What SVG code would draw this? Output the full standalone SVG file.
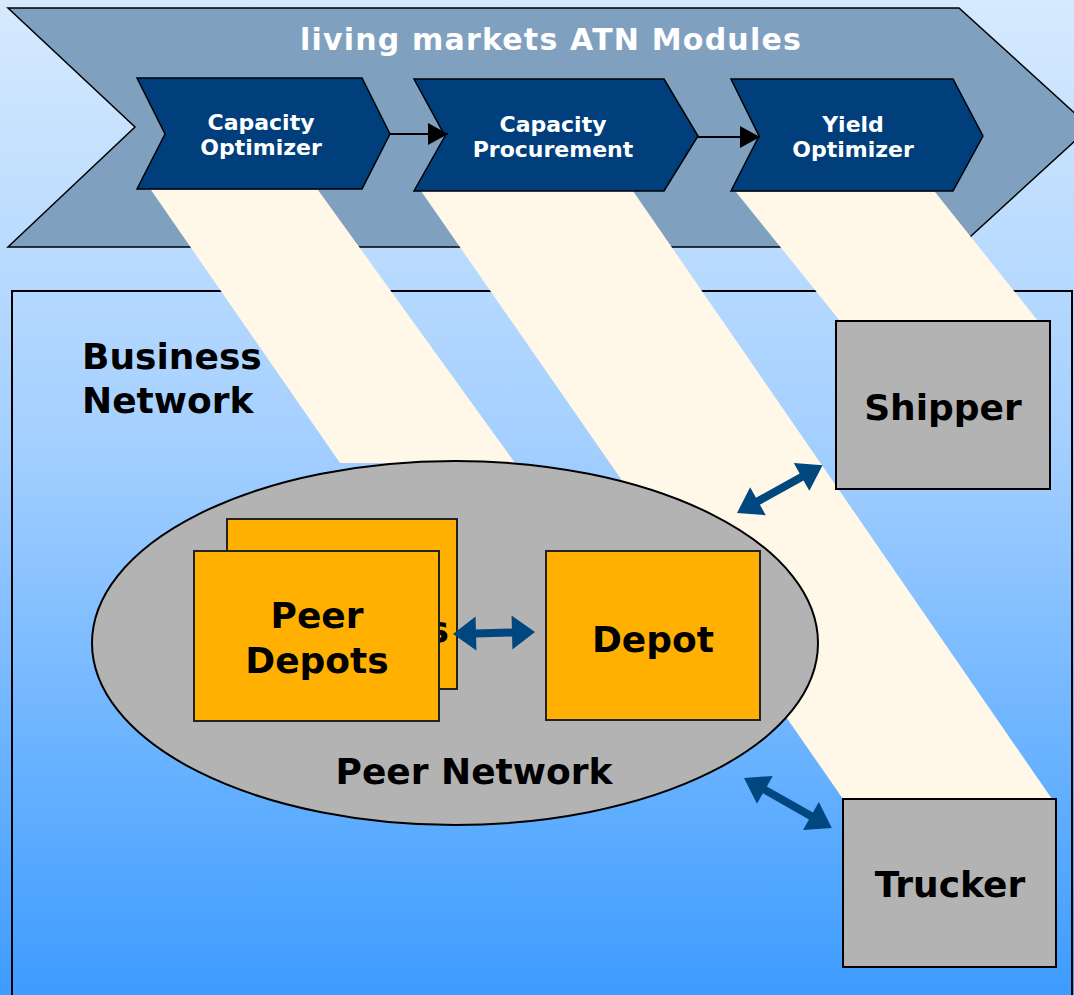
<svg xmlns="http://www.w3.org/2000/svg" width="1074" height="995" viewBox="0 0 1074 995">
<defs>
<linearGradient id="bg" x1="0" y1="0" x2="0" y2="995" gradientUnits="userSpaceOnUse">
<stop offset="0" stop-color="#d6eafe"/>
<stop offset="0.45" stop-color="#a3cfff"/>
<stop offset="1" stop-color="#3d9cff"/>
</linearGradient>
<marker id="tri" viewBox="0 0 20 22" refX="20" refY="11" markerWidth="20" markerHeight="22" markerUnits="userSpaceOnUse" orient="auto">
<path d="M0,0 L20,11 L0,22 Z" fill="#000"/>
</marker>
</defs>
<style>
.chev{fill:#003f7c;stroke:#000;stroke-width:1.5}
.mod{font-family:"DejaVu Sans",Verdana,sans-serif;font-weight:bold;font-size:22px;fill:#fff;text-anchor:middle}
.big{font-family:"DejaVu Sans",Verdana,sans-serif;font-weight:bold;font-size:36px;fill:#000;text-anchor:middle}
.beam{fill:#fff7e8}
.box{fill:#b3b3b3;stroke:#000;stroke-width:2}
.dep{fill:#ffb000;stroke:#222;stroke-width:2}
.dbl{fill:#00467f}
</style>
<rect x="0" y="0" width="1074" height="995" fill="url(#bg)"/>
<rect id="business-network" x="12" y="291" width="1060" height="720" fill="none" stroke="#000" stroke-width="2"/>
<g id="atn-modules">
<polygon points="8,8 959,8 1090,127 959,247 8,247 135,127" fill="#7fa1bf" stroke="#000" stroke-width="1.5"/>
<text x="551" y="50" font-family="DejaVu Sans,Verdana,sans-serif" font-weight="bold" font-size="30" fill="#fff" text-anchor="middle" letter-spacing="1.2">living markets ATN Modules</text>
</g>
<g id="beams">
<polygon class="beam" points="151,190 318,190 515,463 340,463"/>
<polygon class="beam" points="421,191 633,191 1052,799 843,799"/>
<polygon class="beam" points="736,192 935,192 1038,321 840,321"/>
</g>
<g id="capacity-optimizer">
<polygon class="chev" points="137,78 362,78 390,134 362,189 137,189 165,134"/>
<text class="mod" x="261" y="130">Capacity</text>
<text class="mod" x="261" y="155">Optimizer</text>
</g>
<g id="capacity-procurement">
<polygon class="chev" points="414,79 664,79 698,136 664,191 414,191 445,136"/>
<text class="mod" x="553" y="132">Capacity</text>
<text class="mod" x="553" y="157">Procurement</text>
</g>
<g id="yield-optimizer">
<polygon class="chev" points="731,79 953,79 983,136 953,191 731,191 759,136"/>
<text class="mod" x="853" y="132">Yield</text>
<text class="mod" x="853" y="157">Optimizer</text>
</g>
<g id="business-label">
<text class="big" x="82" y="369" style="text-anchor:start">Business</text>
<text class="big" x="82" y="413" style="text-anchor:start">Network</text>
</g>
<g id="peer-network">
<ellipse cx="455" cy="643" rx="363" ry="182" fill="#b3b3b3" stroke="#000" stroke-width="2"/>
<text class="big" x="474" y="784">Peer Network</text>
</g>
<g id="peer-depots">
<rect class="dep" x="227" y="519" width="230" height="170"/>
<text class="big" x="449" y="642" style="text-anchor:end">s</text>
<rect class="dep" x="194" y="551" width="245" height="170"/>
<text class="big" x="317" y="628">Peer</text>
<text class="big" x="317" y="673">Depots</text>
</g>
<g id="depot">
<rect class="dep" x="546" y="551" width="214" height="169"/>
<text class="big" x="653" y="652">Depot</text>
</g>
<g id="shipper">
<rect class="box" x="836" y="321" width="214" height="168"/>
<text class="big" x="943" y="420">Shipper</text>
</g>
<g id="trucker">
<rect class="box" x="843" y="799" width="213" height="168"/>
<text class="big" x="950" y="897">Trucker</text>
</g>
<g id="connectors">
<line x1="390" y1="134" x2="448" y2="134" stroke="#000" stroke-width="2" marker-end="url(#tri)"/>
<line x1="698" y1="137" x2="760" y2="137" stroke="#000" stroke-width="2" marker-end="url(#tri)"/>
<g transform="translate(453,634) rotate(-1.4)">
<polygon class="dbl" points="0,0 23,-17 23,-4 59,-4 59,-17 82,0 59,17 59,4 23,4 23,17"/>
</g>
<g transform="translate(737,513) rotate(-29.2)">
<polygon class="dbl" points="0,0 24,-16 24,-4 74,-4 74,-16 98,0 74,16 74,4 24,4 24,16"/>
</g>
<g transform="translate(744,778) rotate(29.6)">
<polygon class="dbl" points="0,0 24,-16 24,-4 77,-4 77,-16 101,0 77,16 77,4 24,4 24,16"/>
</g>
</g>
</svg>
